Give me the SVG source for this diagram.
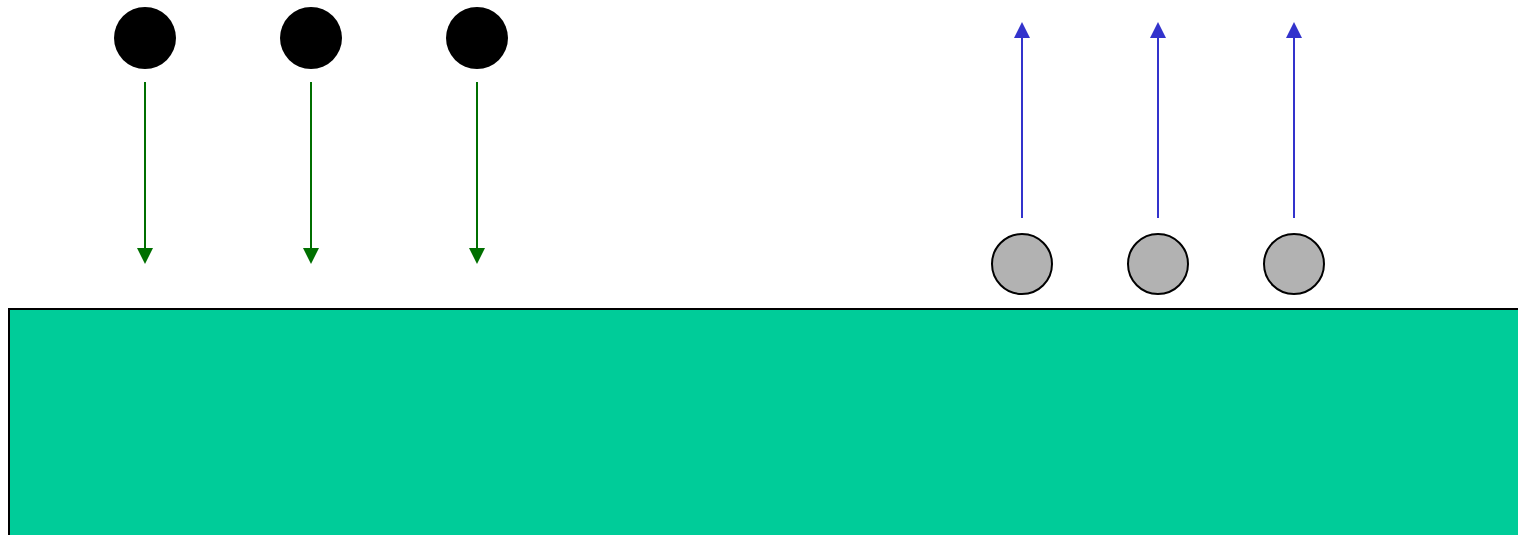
<svg xmlns="http://www.w3.org/2000/svg" width="1518" height="535" viewBox="0 0 1518 535">
<style>
.dark{fill:#000000}
.gray{fill:#b2b2b2;stroke:#000000;stroke-width:2}
.surf{fill:#00cc99;stroke:#000000;stroke-width:2}
.down{stroke:#006f00;stroke-width:2;fill:none;marker-end:url(#gh)}
.up{stroke:#3333cc;stroke-width:2;fill:none;marker-end:url(#bh)}
</style>
<defs>
<marker id="gh" markerWidth="16" markerHeight="16" refX="0" refY="8" orient="auto" markerUnits="userSpaceOnUse" viewBox="0 0 16 16" overflow="visible"><path d="M0,0 L16,8 L0,16 Z" fill="#006f00"/></marker>
<marker id="bh" markerWidth="16" markerHeight="16" refX="0" refY="8" orient="auto" markerUnits="userSpaceOnUse" viewBox="0 0 16 16" overflow="visible"><path d="M0,0 L16,8 L0,16 Z" fill="#3333cc"/></marker>
</defs>
<g id="surface"><rect class="surf" x="9" y="309" width="1520" height="240"/></g>
<g id="particle1"><circle class="dark" cx="145" cy="38" r="31"/></g>
<g id="particle2"><circle class="dark" cx="311" cy="38" r="31"/></g>
<g id="particle3"><circle class="dark" cx="477" cy="38" r="31"/></g>
<g id="particle4"><circle class="gray" cx="1022" cy="264" r="30"/></g>
<g id="particle5"><circle class="gray" cx="1158" cy="264" r="30"/></g>
<g id="particle6"><circle class="gray" cx="1294" cy="264" r="30"/></g>
<g id="connectors">
<line class="down" x1="145" y1="82" x2="145" y2="248"/>
<line class="down" x1="311" y1="82" x2="311" y2="248"/>
<line class="down" x1="477" y1="82" x2="477" y2="248"/>
<line class="up" x1="1022" y1="218" x2="1022" y2="38"/>
<line class="up" x1="1158" y1="218" x2="1158" y2="38"/>
<line class="up" x1="1294" y1="218" x2="1294" y2="38"/>
</g>
</svg>
